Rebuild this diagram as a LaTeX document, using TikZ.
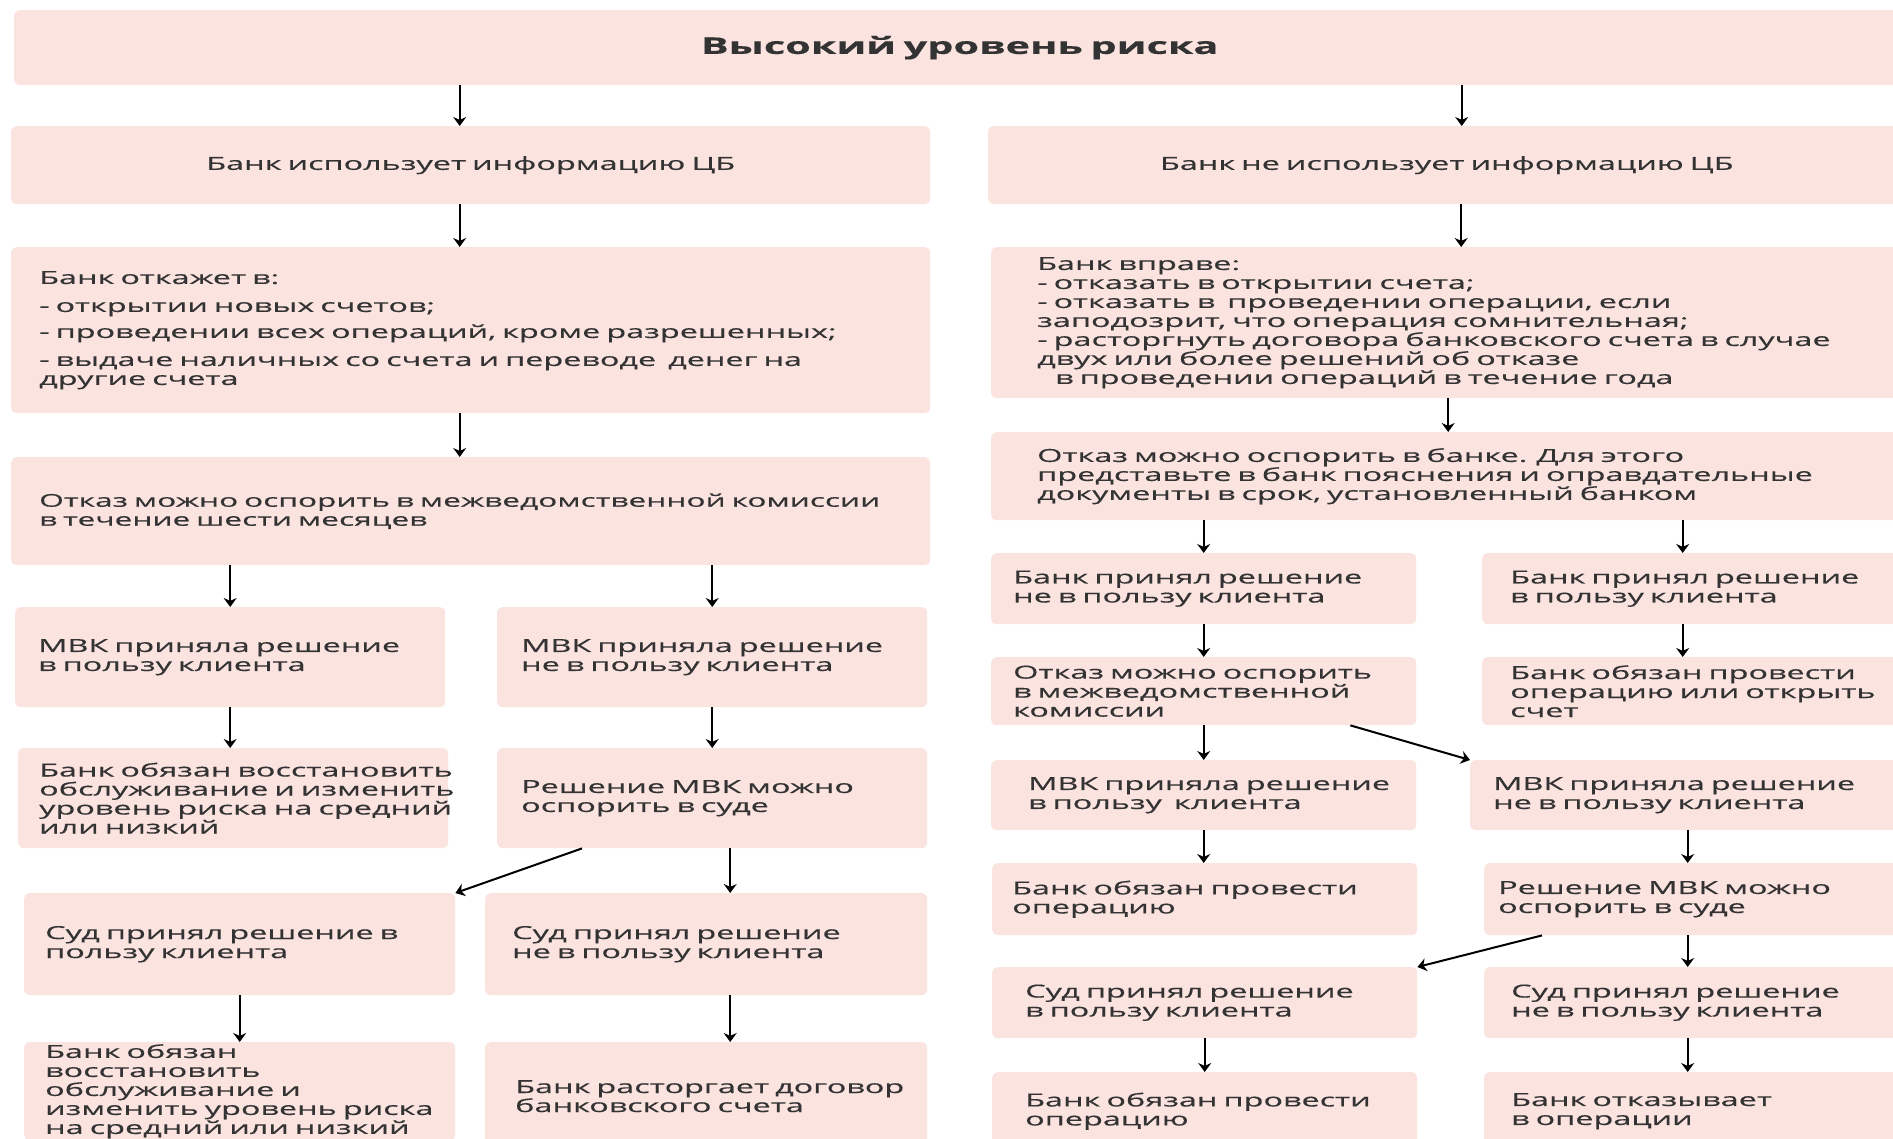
\documentclass[tikz,border=0pt]{standalone}
\usepackage{fontspec}
\setmainfont[FakeStretch=1.8,FakeBold=0.4]{Open Sans}
\usetikzlibrary{arrows.meta,calc}
\definecolor{blkpink}{HTML}{FBE3E0}
\definecolor{txtgray}{HTML}{333333}
\newcommand\boxfont{\fontsize{18}{19}\selectfont}
\newcommand\wideboxfont{\fontsize{17.6}{19}\selectfont}
\newcommand\titleboxfont{\fontsize{23}{25}\selectfont\bfseries}
\tikzset{blk/.style={fill=blkpink, rounded corners=5pt, anchor=north west, align=left,
    inner xsep=0pt, inner ysep=0pt, text=txtgray, font=\boxfont}}
\tikzset{lpad/.style={execute at begin node={\leftskip=#1pt\rightskip=-25pt plus 1fil}}}
\tikzset{arr/.style={-{Stealth[length=9pt,width=13pt]}, line width=2pt}}

\begin{document}
\begin{tikzpicture}[x=1pt,y=-1pt]
    \useasboundingbox (0,0) rectangle (1893,1139);
    \clip (0,0) rectangle (1893,1139);
    % top level
    \node[blk, align=center, font=\titleboxfont, text width=1891pt, minimum height=75pt] (top) at (14,10) {Высокий уровень риска};
    \node[blk, align=center, text width=919pt, minimum height=78pt] (useL) at (11,126) {Банк использует информацию ЦБ};
    \node[blk, align=center, text width=917pt, minimum height=78pt] (useR) at (988,126) {Банк не использует информацию ЦБ};

    % left branch
    \node[blk, lpad=28, text width=919pt, minimum height=166pt] (refuseL) at (11,247)
      {Банк откажет в:\\[9pt]- открытии новых счетов;\\[7pt]- проведении всех операций, кроме разрешенных;\\[9pt]- выдаче наличных со счета и переводе\ \ денег на\\другие счета};
    \node[blk, lpad=28, font=\wideboxfont, text width=919pt, minimum height=108pt] (mvkL) at (11,457)
      {Отказ можно оспорить в межведомственной комиссии\\в течение шести месяцев};
    \node[blk, lpad=23, text width=430pt, minimum height=100pt] (mvkYesL) at (15,607) {МВК приняла решение\\в пользу клиента};
    \node[blk, lpad=24, text width=430pt, minimum height=100pt] (mvkNoL) at (497,607) {МВК приняла решение\\не в пользу клиента};
    \node[blk, lpad=21, text width=430pt, minimum height=100pt] (restoreL) at (18,748)
      {Банк обязан восстановить\\обслуживание и изменить\\уровень риска на средний\\или низкий};
    \node[blk, lpad=24, text width=430pt, minimum height=100pt] (courtL) at (497,748) {Решение МВК можно\\оспорить в суде};
    \node[blk, lpad=21, text width=431pt, minimum height=102pt] (courtYesL) at (24,893) {Суд принял решение в\\пользу клиента};
    \node[blk, lpad=27, text width=442pt, minimum height=102pt] (courtNoL) at (485,893) {Суд принял решение\\не в пользу клиента};
    \node[blk, lpad=21, text width=431pt, minimum height=98pt] (restoreTwoL) at (24,1042)
      {Банк обязан\\восстановить\\обслуживание и\\изменить уровень риска\\на средний или низкий};
    \node[blk, lpad=30, text width=442pt, minimum height=108pt] (termL) at (485,1042) {Банк расторгает договор\\банковского счета};

    % right branch
    \node[blk, lpad=46, text width=914pt, minimum height=151pt] (rightR) at (991,247)
      {Банк вправе:\\- отказать в открытии счета;\\- отказать в\ \ проведении операции, если\\заподозрит, что операция сомнительная;\\- расторгнуть договора банковского счета в случае\\двух или более решений об отказе\\\hspace*{18pt}в проведении операций в течение года};
    \node[blk, lpad=46, text width=914pt, minimum height=88pt] (bankR) at (991,432)
      {Отказ можно оспорить в банке. Для этого\\представьте в банк пояснения и оправдательные\\документы в срок, установленный банком};
    \node[blk, lpad=22, text width=425pt, minimum height=71pt] (bankNoR) at (991,553) {Банк принял решение\\не в пользу клиента};
    \node[blk, lpad=28, text width=423pt, minimum height=71pt] (bankYesR) at (1482,553) {Банк принял решение\\в пользу клиента};
    \node[blk, lpad=22, text width=425pt, minimum height=68pt] (disputeR) at (991,657) {Отказ можно оспорить\\в межведомственной\\комиссии};
    \node[blk, lpad=28, text width=423pt, minimum height=68pt] (mustR) at (1482,657) {Банк обязан провести\\операцию или открыть\\счет};
    \node[blk, lpad=37, text width=425pt, minimum height=70pt] (mvkYesR) at (991,760) {МВК приняла решение\\в пользу\ \ клиента};
    \node[blk, lpad=23, text width=435pt, minimum height=70pt] (mvkNoR) at (1470,760) {МВК приняла решение\\не в пользу клиента};
    \node[blk, lpad=20, text width=425pt, minimum height=72pt] (opR) at (992,863) {Банк обязан провести\\операцию};
    \node[blk, lpad=14, text width=421pt, minimum height=72pt] (courtR) at (1484,863) {Решение МВК можно\\оспорить в суде};
    \node[blk, lpad=33, text width=425pt, minimum height=71pt] (courtYesR) at (992,967) {Суд принял решение\\в пользу клиента};
    \node[blk, lpad=27, text width=421pt, minimum height=71pt] (courtNoR) at (1484,967) {Суд принял решение\\не в пользу клиента};
    \node[blk, lpad=33, text width=425pt, minimum height=78pt] (opTwoR) at (992,1072) {Банк обязан провести\\операцию};
    \node[blk, lpad=27, text width=421pt, minimum height=78pt] (denyR) at (1484,1072) {Банк отказывает\\в операции};

    % arrows
    \draw[arr] ($(top.south -| useL)+(-11,0)$) -- ($(useL.north)+(-11,0)$);
    \draw[arr] ($(top.south -| useR)+(15,0)$) -- ($(useR.north)+(15,0)$);
    \draw[arr] ($(useL.south)+(-11,0)$) -- ($(refuseL.north)+(-11,0)$);
    \draw[arr] ($(useR.south -| rightR)+(13,0)$) -- ($(rightR.north)+(13,0)$);
    \draw[arr] ($(refuseL.south)+(-11,0)$) -- ($(mvkL.north)+(-11,0)$);
    \draw[arr] (rightR.south) -- (bankR.north);
    \draw[arr] (mvkL.south -| mvkYesL) -- (mvkYesL.north);
    \draw[arr] (mvkL.south -| mvkNoL) -- (mvkNoL.north);
    \draw[arr] (bankR.south -| bankNoR) -- (bankNoR.north);
    \draw[arr] ($(bankR.south -| bankYesR)+(-11,0)$) -- ($(bankYesR.north)+(-11,0)$);
    \draw[arr] (mvkYesL.south) -- (mvkYesL.south |- restoreL.north);
    \draw[arr] (mvkNoL.south) -- (mvkNoL.south |- courtL.north);
    \draw[arr] (bankNoR.south) -- (bankNoR.south |- disputeR.north);
    \draw[arr] ($(bankYesR.south)+(-11,0)$) -- ($(mustR.north)+(-11,0)$);
    \draw[arr] ($(courtL.south)+(18,0)$) -- ($(courtL.south |- courtNoL.north)+(18,0)$);
    \draw[arr] ($(courtL.south west)+(85,0)$) -- (courtYesL.north east);
    \draw[arr] (disputeR.south) -- (disputeR.south |- mvkYesR.north);
    \draw[arr] ($(disputeR.south east)+(-66,0)$) -- (mvkNoR.north west);
    \draw[arr] (mvkYesR.south) -- (mvkYesR.south |- opR.north);
    \draw[arr] (mvkNoR.south) -- (mvkNoR.south |- courtR.north);
    \draw[arr] (mvkNoR.south |- courtR.south) -- (mvkNoR.south |- courtNoR.north);
    \draw[arr] ($(courtR.south west)+(58,0)$) -- (courtYesR.north east);
    \draw[arr] (courtYesR.south) -- (courtYesR.south |- opTwoR.north);
    \draw[arr] (mvkNoR.south |- courtNoR.south) -- (mvkNoR.south |- denyR.north);
    \draw[arr] (courtYesL.south) -- (courtYesL.south |- restoreTwoL.north);
    \draw[arr] ($(courtNoL.south)+(24,0)$) -- ($(courtNoL.south |- termL.north)+(24,0)$);
\end{tikzpicture}
\end{document}
